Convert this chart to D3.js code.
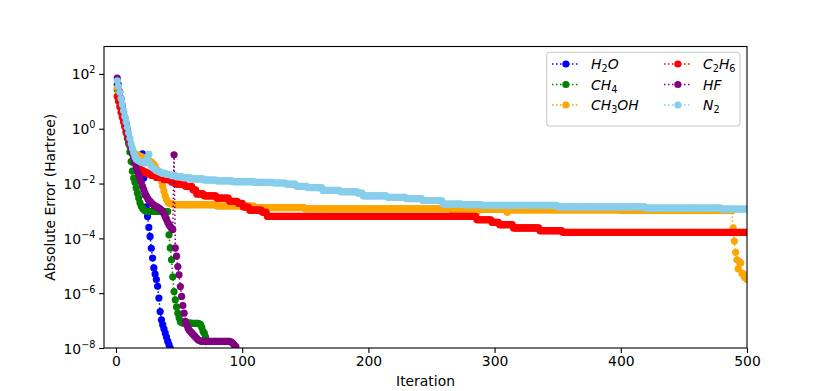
<!DOCTYPE html>
<html>
<head>
<meta charset="utf-8">
<script src="https://cdn.jsdelivr.net/npm/d3@7"></script>
<style>
  body { margin: 0; background: #fff; }
  svg { display: block; font-family: "DejaVu Sans", sans-serif; }
</style>
</head>
<body>
<script>
// [iteration, log10(|error|)] breakpoints; value holds until the next breakpoint
const h2oSteps = [[1,1.6],[2,1.38],[3,1.15],[4,0.92],[5,0.7],[6,0.47],[7,0.25],[8,0.03],[9,-0.2],[10,-0.42],
  [11,-0.62],[12,-0.78],[13,-0.9],[14,-1.0],[15,-1.08],[16,-1.14],[17,-1.18],[18,-1.2],[19,-1.15],[20,-1.05],
  [21,-0.92],[22,-1.8],[23,-2.4],[24,-2.85],[25,-3.2],[26,-3.6],[27,-3.93],[28,-4.36],[29,-4.72],[30,-5.08],
  [31,-5.3],[32,-5.5],[33,-5.75],[34,-6.18],[35,-6.67],[36,-6.97],[37,-7.15],[38,-7.3],[39,-7.45],[40,-7.6],
  [41,-7.75],[42,-7.88],[43,-8.0],[44,-8.12],[45,-8.25]];
const ch4Steps = [[1,1.42],[2,1.2],[3,0.97],[4,0.75],[5,0.52],[6,0.3],[7,0.08],[8,-0.15],[9,-0.35],[10,-0.55],
  [11,-0.85],[12,-1.2],[13,-1.55],[14,-1.8],[15,-1.95],[16,-2.16],[17,-2.35],[18,-2.53],[19,-2.7],[20,-2.82],
  [21,-2.9],[22,-2.95],[23,-2.99],[24,-3.02],[42,-3.87],[43,-4.35],[44,-4.78],[45,-5.4],[46,-5.94],[47,-6.24],
  [48,-6.5],[49,-6.73],[50,-6.9],[51,-7.03],[52,-7.07],[53,-7.09],[60,-7.1],[66,-7.12],[67,-7.15],[68,-7.25],
  [69,-7.4],[70,-7.46],[71,-7.6],[72,-8.3]];
const ch3ohSteps = [[1,1.5],[2,1.3],[3,1.08],[4,0.86],[5,0.64],[6,0.43],[7,0.22],[8,0.02],[9,-0.18],[10,-0.36],
  [11,-0.52],[12,-0.66],[13,-0.78],[14,-0.86],[15,-0.91],[16,-0.94],[17,-0.96],[18,-0.98],[19,-1.0],[20,-1.02],
  [21,-1.04],[22,-1.06],[23,-1.08],[24,-1.1],[25,-1.12],[26,-1.15],[27,-1.18],[28,-1.22],[29,-1.26],[30,-1.3],
  [31,-1.38],[32,-1.47],[33,-1.57],[34,-1.68],[35,-1.8],[36,-1.92],[37,-2.1],[38,-2.28],[39,-2.45],[40,-2.58],
  [41,-2.66],[42,-2.71],[43,-2.74],[46,-2.77],[80,-2.82],[110,-2.88],[150,-2.92],[267,-3.05],[268,-2.93],
  [286,-3.05],[287,-2.94],[310,-3.05],[311,-2.96],[400,-2.98],[488,-3.0],[489,-3.62],[490,-4.1],[491,-4.51],
  [492,-4.78],[493,-5.11],[494,-4.85],[495,-4.9],[496,-5.27],[497,-5.3],[498,-5.41],[499,-5.45],[500,-5.5]];
const c2h6Steps = [[1,1.18],[2,1.0],[3,0.8],[4,0.6],[5,0.42],[6,0.25],[7,0.08],[8,-0.1],[9,-0.25],[10,-0.4],
  [11,-0.55],[12,-0.7],[13,-0.85],[14,-1.0],[15,-1.12],[16,-1.22],[17,-1.32],[18,-1.4],[19,-1.47],[20,-1.52],
  [22,-1.58],[25,-1.64],[28,-1.7],[32,-1.78],[38,-1.86],[44,-1.94],[48,-2.02],[55,-2.1],[61,-2.23],[64,-2.38],
  [70,-2.45],[80,-2.53],[90,-2.65],[97,-2.72],[101,-2.86],[106,-2.97],[116,-3.05],[120,-3.2],[286,-3.32],
  [298,-3.42],[304,-3.5],[315,-3.62],[336,-3.72],[354,-3.78],[500,-3.78]];
const hfSteps = [[1,1.85],[2,1.6],[3,1.35],[4,1.1],[5,0.85],[6,0.62],[7,0.4],[8,0.18],[9,-0.05],[10,-0.28],
  [11,-0.5],[12,-0.7],[13,-0.88],[14,-1.05],[15,-1.25],[16,-1.4],[17,-1.55],[18,-1.68],[19,-1.8],[20,-1.95],
  [21,-2.1],[22,-2.22],[23,-2.35],[24,-2.45],[25,-2.53],[26,-2.6],[27,-2.65],[28,-2.7],[29,-2.75],[30,-2.79],
  [31,-2.82],[32,-2.84],[33,-2.87],[34,-2.9],[35,-2.93],[36,-2.97],[37,-3.02],[38,-3.1],[39,-3.2],[40,-3.3],
  [41,-3.42],[42,-3.5],[43,-3.57],[44,-3.63],[45,-3.68],[46,-0.95],[47,-4.35],[48,-4.65],[49,-5.03],[50,-5.33],
  [51,-5.76],[52,-6.12],[53,-6.45],[54,-6.73],[55,-7.03],[56,-7.15],[57,-7.27],[58,-7.35],[59,-7.4],[60,-7.45],
  [61,-7.5],[62,-7.55],[63,-7.6],[64,-7.65],[65,-7.7],[66,-7.72],[67,-7.74],[68,-7.76],[91,-7.78],[92,-7.8],
  [93,-7.85],[94,-7.9],[95,-7.95],[96,-8.1]];
const n2Steps = [[1,1.75],[2,1.55],[3,1.33],[4,1.1],[5,0.88],[6,0.66],[7,0.45],[8,0.25],[9,0.05],[10,-0.15],
  [11,-0.35],[12,-0.55],[13,-0.72],[14,-0.88],[15,-1.02],[16,-1.1],[17,-1.14],[18,-1.17],[19,-1.19],[20,-1.21],
  [21,-1.23],[22,-1.24],[23,-1.25],[24,-1.2],[25,-1.08],[26,-0.93],[27,-1.28],[28,-1.36],[29,-1.41],[30,-1.45],
  [31,-1.49],[32,-1.52],[33,-1.55],[35,-1.59],[37,-1.63],[40,-1.67],[44,-1.71],[48,-1.75],[53,-1.79],[60,-1.83],
  [70,-1.87],[80,-1.9],[93,-1.93],[110,-1.96],[125,-1.98],[135,-2.02],[143,-2.1],[152,-2.15],[164,-2.25],
  [178,-2.3],[192,-2.35],[196,-2.45],[215,-2.5],[230,-2.55],[243,-2.62],[259,-2.75],[275,-2.77],[290,-2.8],
  [350,-2.85],[420,-2.9],[480,-2.93],[500,-2.93]];

const seriesNames = ['H2O', 'CH4', 'CH3OH', 'C2H6', 'HF', 'N2'];
const seriesColors = ['blue', 'green', 'orange', 'red', 'purple', 'skyblue'];
const seriesSteps = [h2oSteps, ch4Steps, ch3ohSteps, c2h6Steps, hfSteps, n2Steps];
const xTicks = [0, 100, 200, 300, 400, 500];
const yTickExps = [-8, -6, -4, -2, 0, 2];

const W = 830, H = 391;
const plotL = 104, plotR = 747, plotT = 46.5, plotB = 348;

const svg = d3.select('body').append('svg').attr('width', W).attr('height', H);

const xScale = d3.scaleLinear().domain([-9.5, 500]).range([plotL, plotR]);
const yScale = d3.scaleLog().domain([1e-8, 1e3]).range([plotB, plotT]);

// expand breakpoints to one point per iteration
function expand(steps) {
  const pts = [];
  for (let k = 0; k < steps.length; k++) {
    const end = k < steps.length - 1 ? steps[k + 1][0] : steps[k][0] + 1;
    for (let it = steps[k][0]; it < end; it++) pts.push([it, Math.pow(10, steps[k][1])]);
  }
  return pts;
}

svg.append('clipPath').attr('id', 'clip')
  .append('rect').attr('x', plotL).attr('y', plotT).attr('width', plotR - plotL).attr('height', plotB - plotT);

const plot = svg.append('g').attr('clip-path', 'url(#clip)');
const line = d3.line().x(d => xScale(d[0])).y(d => yScale(d[1]));

seriesSteps.forEach((steps, i) => {
  const pts = expand(steps);
  const g = plot.append('g');
  g.append('path').datum(pts)
    .attr('d', line)
    .attr('fill', 'none')
    .attr('stroke', seriesColors[i])
    .attr('stroke-width', 1.5)
    .attr('stroke-dasharray', '1.5,2.5');
  g.selectAll('circle').data(pts).enter().append('circle')
    .attr('cx', d => xScale(d[0]))
    .attr('cy', d => yScale(d[1]))
    .attr('r', 3.6)
    .attr('fill', seriesColors[i]);
});

// axes
const xAxis = svg.append('g').attr('transform', `translate(0,${plotB})`)
  .call(d3.axisBottom(xScale).tickValues(xTicks).tickSize(4.9).tickPadding(3.5).tickFormat(d3.format('d')));
xAxis.select('.domain').remove();
xAxis.selectAll('text').attr('font-size', 13.9).attr('font-family', 'DejaVu Sans').attr('fill', '#000');
xAxis.selectAll('line').attr('stroke', '#000').attr('stroke-width', 1.1);

const yAxis = svg.append('g').attr('transform', `translate(${plotL},0)`)
  .call(d3.axisLeft(yScale).tickValues(yTickExps.map(e => Math.pow(10, e))).tickSize(4.9).tickPadding(3.5).tickFormat(''));
yAxis.select('.domain').remove();
yAxis.selectAll('line').attr('stroke', '#000').attr('stroke-width', 1.1);
yAxis.selectAll('.tick').each(function(d) {
  const e = Math.round(Math.log10(d));
  const t = d3.select(this).select('text')
    .attr('x', -8.5).attr('dy', null).attr('y', 5)
    .attr('text-anchor', 'end').attr('font-size', 13.9).attr('font-family', 'DejaVu Sans').attr('fill', '#000');
  t.text('10');
  t.append('tspan').attr('dy', -6).attr('font-size', 9.7).text(e < 0 ? '\u2212' + (-e) : String(e));
});

svg.append('rect').attr('x', plotL).attr('y', plotT).attr('width', plotR - plotL).attr('height', plotB - plotT)
  .attr('fill', 'none').attr('stroke', '#000').attr('stroke-width', 1.1);

svg.append('text').attr('x', (plotL + plotR) / 2).attr('y', 386).attr('text-anchor', 'middle')
  .attr('font-size', 13.9).text('Iteration');
svg.append('text').attr('transform', `translate(55,${(plotT + plotB) / 2}) rotate(-90)`)
  .attr('text-anchor', 'middle').attr('font-size', 13.9).text('Absolute Error (Hartree)');

// legend
const legendLabels = [
  [['H', 'i'], ['2', 's'], ['O', 'i']],
  [['CH', 'i'], ['4', 's']],
  [['CH', 'i'], ['3', 's'], ['OH', 'i']],
  [['C', 'i'], ['2', 's'], ['H', 'i'], ['6', 's']],
  [['HF', 'i']],
  [['N', 'i'], ['2', 's']]
];
const legend = svg.append('g');
legend.append('rect').attr('x', 546.7).attr('y', 52.3).attr('width', 193.3).attr('height', 73.7)
  .attr('rx', 3).attr('fill', '#fff').attr('fill-opacity', 0.8).attr('stroke', '#ccc').attr('stroke-width', 1.1);
const rowY = [64, 84.5, 105];
seriesNames.forEach((name, i) => {
  const col = Math.floor(i / 3), row = i % 3;
  const hx = col === 0 ? 552 : 664;
  const y = rowY[row];
  legend.append('line').attr('x1', hx).attr('x2', hx + 27.8).attr('y1', y).attr('y2', y)
    .attr('stroke', seriesColors[i]).attr('stroke-width', 1.5).attr('stroke-dasharray', '1.5,2.5');
  legend.append('circle').attr('cx', hx + 13.9).attr('cy', y).attr('r', 3.6).attr('fill', seriesColors[i]);
  const t = legend.append('text').attr('x', hx + 39).attr('y', y + 5).attr('font-size', 13.9);
  let sub = false;
  legendLabels[i].forEach(([s, kind]) => {
    const ts = t.append('tspan').text(s);
    if (kind === 's') { ts.attr('font-size', 9.7).attr('dy', sub ? 0 : 3); sub = true; }
    else { ts.attr('font-style', 'italic'); if (sub) { ts.attr('dy', -3); sub = false; } }
  });
});
</script>
</body>
</html>
